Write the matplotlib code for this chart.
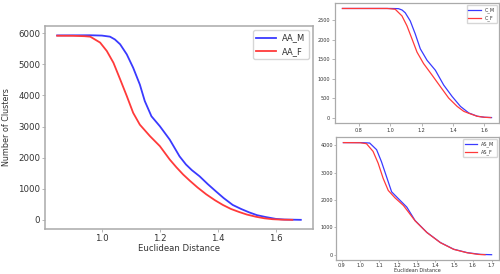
import numpy as np
import matplotlib.pyplot as plt

# AA panel (big, left)
aa_m_x = [0.846, 0.9, 0.96, 1.0, 1.028, 1.045, 1.063, 1.086, 1.108, 1.131, 1.148, 1.171,
          1.2, 1.234, 1.268, 1.29, 1.31, 1.337, 1.365, 1.394, 1.42, 1.451, 1.48, 1.508,
          1.535, 1.565, 1.6, 1.63, 1.686]
aa_m_y = [5930, 5932, 5935, 5925, 5890, 5800, 5645, 5320, 4890, 4350, 3820, 3330,
          3010, 2580, 2040, 1780, 1600, 1400, 1150, 910, 700, 480, 350, 240,
          150, 90, 30, 10, 0]
aa_f_x = [0.846, 0.9, 0.94, 0.96, 0.994, 1.017, 1.04, 1.063, 1.086, 1.108, 1.131, 1.166,
          1.2, 1.234, 1.257, 1.28, 1.303, 1.33, 1.36, 1.39, 1.417, 1.445, 1.474, 1.5,
          1.531, 1.56, 1.589, 1.62, 1.657]
aa_f_y = [5920, 5918, 5905, 5890, 5700, 5430, 5050, 4520, 3980, 3440, 3060, 2690,
          2370, 1940, 1690, 1460, 1260, 1040, 820, 630, 480, 350, 250, 170,
          100, 50, 20, 6, 0]

# C panel (top right)
c_m_x = [0.695, 1.0, 1.052, 1.075, 1.095, 1.127, 1.159, 1.191, 1.234, 1.287, 1.34,
         1.394, 1.447, 1.5, 1.554, 1.6, 1.645]
c_m_y = [2800, 2800, 2795, 2760, 2690, 2480, 2145, 1765, 1470, 1215, 835,
         540, 286, 118, 35, 8, 0]
c_f_x = [0.695, 0.98, 1.031, 1.074, 1.106, 1.138, 1.17, 1.212, 1.266, 1.319, 1.372,
         1.426, 1.468, 1.5, 1.554, 1.6, 1.64]
c_f_y = [2800, 2800, 2780, 2610, 2355, 2020, 1680, 1385, 1090, 793, 500,
         286, 160, 110, 33, 7, 0]

# AS panel (bottom right)
as_m_x = [0.91, 1.0, 1.05, 1.087, 1.113, 1.14, 1.167, 1.203, 1.248, 1.292, 1.355,
          1.427, 1.498, 1.57, 1.642, 1.70]
as_m_y = [4100, 4100, 4085, 3840, 3400, 2850, 2300, 2050, 1740, 1250, 815,
          445, 200, 75, 10, 0]
as_f_x = [0.91, 1.0, 1.033, 1.068, 1.095, 1.122, 1.149, 1.185, 1.23, 1.292, 1.355,
          1.427, 1.498, 1.57, 1.63, 1.665]
as_f_y = [4100, 4095, 4060, 3780, 3350, 2790, 2350, 2080, 1800, 1240, 810,
          440, 195, 70, 10, 0]

blue = '#3a3aff'
red = '#ff3a3a'
spine = '#aaaaaa'
txt = '#333333'

fig = plt.figure(figsize=(5, 2.74), dpi=100)


def style(ax, fs, lw, tl=2, pad=1.5):
    for s in ax.spines.values():
        s.set_color(spine)
        s.set_linewidth(lw)
    ax.tick_params(colors=spine, labelcolor=txt, labelsize=fs, length=tl, width=0.6, pad=pad)


ax1 = fig.add_axes([0.09, 0.164, 0.536, 0.741])
ax1.plot(aa_m_x, aa_m_y, color=blue, lw=1.3, label='AA_M')
ax1.plot(aa_f_x, aa_f_y, color=red, lw=1.3, label='AA_F')
ax1.set_xticks([1.0, 1.2, 1.4, 1.6])
ax1.set_yticks([0, 1000, 2000, 3000, 4000, 5000, 6000])
ax1.set_xlabel('Euclidean Distance', fontsize=6.1, color=txt, labelpad=1)
ax1.set_ylabel('Number of Clusters', fontsize=5.8, color=txt, labelpad=5)
style(ax1, 6.2, 1.1)
ax1.legend(loc='upper right', fontsize=6, handlelength=2.3, labelcolor=txt,
           borderaxespad=0.5)

ax2 = fig.add_axes([0.67, 0.551, 0.328, 0.438])
ax2.plot(c_m_x, c_m_y, color=blue, lw=0.9, label='C_M')
ax2.plot(c_f_x, c_f_y, color=red, lw=0.9, label='C_F')
ax2.set_xticks([0.8, 1.0, 1.2, 1.4, 1.6])
ax2.set_yticks([0, 500, 1000, 1500, 2000, 2500])
style(ax2, 3.5, 0.9)
ax2.legend(loc='upper right', fontsize=3.5, handlelength=2.5, labelcolor=txt)

ax3 = fig.add_axes([0.672, 0.05, 0.326, 0.45])
ax3.plot(as_m_x, as_m_y, color=blue, lw=0.9, label='AS_M')
ax3.plot(as_f_x, as_f_y, color=red, lw=0.9, label='AS_F')
ax3.set_xticks(np.round(np.arange(0.9, 1.71, 0.1), 1))
ax3.set_yticks([0, 1000, 2000, 3000, 4000])
ax3.set_xlabel('Euclidean Distance', fontsize=3.5, color=txt, labelpad=0)
style(ax3, 3.5, 0.9, tl=1.5, pad=0.8)
ax3.legend(loc='upper right', fontsize=3.5, handlelength=2.5, labelcolor=txt)

fig.savefig('out.png', dpi=100)
